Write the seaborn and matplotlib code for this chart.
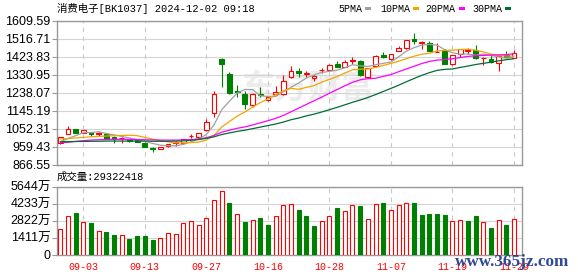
import matplotlib
matplotlib.use('Agg')
import matplotlib.pyplot as plt
import seaborn as sns
import numpy as np
import pandas as pd
from matplotlib.patches import Rectangle

# ---------------- data ----------------
dates = ['08-29', '08-30', '09-02', '09-03', '09-04', '09-05', '09-06', '09-09', '09-10', '09-11',
         '09-12', '09-13', '09-18', '09-19', '09-20', '09-23', '09-24', '09-25', '09-26', '09-27',
         '09-30', '10-08', '10-09', '10-10', '10-11', '10-14', '10-15', '10-16', '10-17', '10-18',
         '10-21', '10-22', '10-23', '10-24', '10-25', '10-28', '10-29', '10-30', '10-31', '11-01',
         '11-04', '11-05', '11-06', '11-07', '11-08', '11-11', '11-12', '11-13', '11-14', '11-15',
         '11-18', '11-19', '11-20', '11-21', '11-22', '11-25', '11-26', '11-27', '11-28', '11-29']

opens = [979, 1026, 1051, 1034, 1034, 1027, 1025, 1011, 1004, 994,
         995, 982, 955, 950, 963, 982, 980, 1014, 1011, 1047,
         1137, 1415, 1338, 1246, 1233, 1178, 1232, 1200, 1232, 1232,
         1319, 1352, 1338, 1317, 1357, 1357, 1390, 1374, 1404, 1403,
         1322, 1375, 1433, 1415, 1456, 1469, 1516, 1498, 1494, 1450,
         1456, 1386, 1440, 1457, 1460, 1418, 1413, 1391, 1432, 1421]
highs = [1012, 1068, 1053, 1048, 1037, 1035, 1030, 1016, 1013, 997,
         998, 983, 959, 962, 976, 990, 1003, 1028, 1034, 1102,
         1246, 1417, 1345, 1278, 1246, 1237, 1271, 1220, 1275, 1333,
         1377, 1365, 1353, 1330, 1366, 1388, 1404, 1408, 1425, 1410,
         1368, 1436, 1450, 1441, 1480, 1513, 1546, 1507, 1505, 1497,
         1466, 1436, 1464, 1469, 1484, 1424, 1434, 1430, 1456, 1460]
lows = [976, 1024, 1032, 1032, 1018, 1017, 1000, 981, 978, 987,
        983, 958, 932, 948, 961, 966, 975, 1004, 1008, 1044,
        1115, 1270, 1232, 1215, 1155, 1168, 1215, 1198, 1228, 1230,
        1316, 1322, 1322, 1302, 1340, 1355, 1371, 1372, 1387, 1327,
        1320, 1373, 1417, 1408, 1455, 1467, 1490, 1464, 1455, 1448,
        1386, 1385, 1425, 1439, 1416, 1384, 1395, 1353, 1424, 1419]
closes = [1009, 1051, 1034, 1046, 1029, 1031, 1002, 1000, 1006, 989,
          985, 961, 951, 960, 973, 984, 999, 1016, 1031, 1088,
          1234, 1389, 1236, 1242, 1180, 1235, 1226, 1216, 1243, 1298,
          1353, 1342, 1340, 1327, 1359, 1382, 1374, 1398, 1407, 1330,
          1365, 1428, 1426, 1439, 1468, 1511, 1508, 1500, 1456, 1452,
          1388, 1434, 1463, 1460, 1418, 1421, 1397, 1428, 1426, 1443]

ma5 = [987, 1003, 1018, 1033, 1034, 1038, 1029, 1022, 1014, 1006,
       997, 989, 978, 969, 966, 966, 973, 986, 1001, 1024,
       1074, 1152, 1196, 1238, 1256, 1256, 1224, 1220, 1220, 1244,
       1267, 1290, 1315, 1332, 1344, 1350, 1356, 1368, 1384, 1378,
       1375, 1384, 1391, 1398, 1425, 1454, 1472, 1485, 1489, 1485,
       1461, 1446, 1438, 1439, 1433, 1439, 1432, 1424, 1418, 1423]
ma10 = [1001, 1003, 1006, 1009, 1012, 1014, 1016, 1018, 1019, 1020,
        1018, 1009, 1000, 992, 986, 981, 981, 982, 985, 995,
        1020, 1063, 1091, 1119, 1140, 1165, 1188, 1208, 1229, 1250,
        1262, 1257, 1267, 1276, 1294, 1308, 1323, 1341, 1358, 1361,
        1362, 1370, 1380, 1391, 1402, 1415, 1428, 1438, 1443, 1455,
        1458, 1459, 1462, 1464, 1459, 1450, 1439, 1431, 1429, 1428]
ma20 = [982, 984, 988, 992, 995, 997, 998, 999, 999, 999,
        998, 997, 996, 995, 995, 995, 996, 998, 1001, 1007,
        1019, 1036, 1046, 1056, 1063, 1073, 1084, 1095, 1107, 1122,
        1141, 1160, 1179, 1198, 1217, 1237, 1256, 1275, 1293, 1306,
        1312, 1314, 1324, 1333, 1348, 1362, 1376, 1390, 1401, 1408,
        1410, 1415, 1421, 1427, 1430, 1432, 1434, 1435, 1436, 1441]
ma30 = [987, 987, 988, 988, 989, 989, 990, 990, 990, 990,
        990, 990, 989, 989, 989, 990, 991, 994, 998, 1004,
        1012, 1024, 1032, 1040, 1046, 1054, 1062, 1070, 1078, 1088,
        1100, 1109, 1120, 1129, 1140, 1152, 1164, 1177, 1190, 1202,
        1215, 1230, 1246, 1262, 1278, 1296, 1313, 1329, 1343, 1355,
        1360, 1362, 1370, 1377, 1385, 1391, 1397, 1404, 1410, 1415]

# volume in 万 (10k shares)
volume = [2103, 3209, 3486, 2711, 2656, 1964, 1881, 1660, 1632, 1300,
          1549, 1549, 1217, 1383, 1798, 1715, 2628, 2767, 2462, 3043,
          4537, 5284, 4288, 3375, 2711, 2877, 3043, 2490, 3209, 4122,
          4205, 3707, 3209, 2379, 2767, 3209, 3873, 3597, 4122, 4039,
          2932, 4205, 4288, 3707, 4122, 4288, 4288, 3320, 3375, 3375,
          3292, 2767, 2877, 2767, 3209, 2711, 2213, 2877, 2462, 2932]
vol_dir = ['u', 'u', 'd', 'u', 'd', 'u', 'd', 'd', 'u', 'd',
           'd', 'd', 'd', 'u', 'u', 'u', 'u', 'u', 'u', 'u',
           'u', 'u', 'd', 'u', 'd', 'u', 'd', 'd', 'u', 'u',
           'u', 'd', 'd', 'd', 'u', 'u', 'd', 'u', 'u', 'd',
           'u', 'u', 'd', 'u', 'u', 'u', 'd', 'd', 'd', 'd',
           'd', 'u', 'u', 'd', 'd', 'u', 'd', 'u', 'd', 'u']

price_ticks = [866.55, 959.43, 1052.31, 1145.19, 1238.07, 1330.95, 1423.83, 1516.71, 1609.59]
vol_ticks = [0, 1411, 2822, 4233, 5644]
label_dates = ['09-03', '09-13', '09-27', '10-16', '10-28', '11-07', '11-19', '11-29']
title_text = '消费电子[BK1037] 2024-12-02 09:18'
vol_text = '成交量:29322418'
ma_names = ['5PMA', '10PMA', '20PMA', '30PMA']

# ---------------- style ----------------
RED = '#ff0000'
GREEN = '#008000'
MA_COLORS = ['#a0a0a0', '#f5a300', '#ff00ff', '#006d36']
FRAME = '#999999'
GRID = '#d4d4d4'

sns.set_style('white')
plt.rcParams['font.family'] = ['Liberation Sans', 'Noto Sans CJK SC', 'DejaVu Sans']

W, H = 578, 276
fig = plt.figure(figsize=(W / 100, H / 100), dpi=100)


def fx(px):
    return px / W


def fy(py):
    return 1 - py / H


L, R = 56.5, 522.3
ax = fig.add_axes([fx(L), fy(165), (R - L) / W, 144 / H])
axv = fig.add_axes([fx(L), fy(254.7), (R - L) / W, 68 / H], sharex=ax)

df = pd.DataFrame({'date': dates, 'open': opens, 'high': highs, 'low': lows,
                   'close': closes, 'ma5': ma5, 'ma10': ma10, 'ma20': ma20,
                   'ma30': ma30, 'volume': volume, 'vdir': vol_dir})
df['x'] = np.arange(len(df))
o = df['open'].to_numpy(float)
c = df['close'].to_numpy(float)
h = df['high'].to_numpy(float)
lo = df['low'].to_numpy(float)
xs = df['x'].to_numpy()
up = c >= o
dn = ~up

# watermark
ax.text(0.54, 0.53, '东方财富', transform=ax.transAxes, fontsize=24, fontweight='bold',
        color='#ececec', ha='center', va='center', zorder=0.5,
        family=['Noto Sans CJK SC'])

# candles
bw = 0.62
ax.vlines(xs[up], c[up], h[up], color=RED, lw=0.8, zorder=3)
ax.vlines(xs[up], lo[up], o[up], color=RED, lw=0.8, zorder=3)
ax.vlines(xs[dn], lo[dn], h[dn], color=GREEN, lw=0.8, zorder=3)
ax.bar(xs[up], np.maximum(c[up] - o[up], 0.8), bottom=o[up], width=bw,
       facecolor='white', edgecolor=RED, linewidth=0.8, zorder=3.5)
ax.bar(xs[dn], np.maximum(o[dn] - c[dn], 0.8), bottom=c[dn], width=bw,
       facecolor=GREEN, edgecolor=GREEN, linewidth=0.8, zorder=3.5)

# moving averages
for col, color in zip(['ma5', 'ma10', 'ma20', 'ma30'], MA_COLORS):
    sns.lineplot(data=df, x='x', y=col, ax=ax, color=color, linewidth=0.9,
                 estimator=None, zorder=4)

# volume bars
vu = df['vdir'] == 'u'
vd = ~vu
vbw = 0.52
axv.bar(df.loc[vu, 'x'], df.loc[vu, 'volume'], width=vbw, facecolor='white',
        edgecolor=RED, linewidth=0.8, zorder=3)
axv.bar(df.loc[vd, 'x'], df.loc[vd, 'volume'], width=vbw, facecolor=GREEN,
        edgecolor=GREEN, linewidth=0.8, zorder=3)

# axes formatting
tick_idx = [dates.index(d) for d in label_dates]
for a in (ax, axv):
    a.set_xlim(-0.49, 60.08)
    a.set_xlabel('')
    a.set_ylabel('')
    for s in a.spines.values():
        s.set_color(FRAME)
        s.set_linewidth(1.0)
        s.set_visible(True)
    a.set_xticks(tick_idx)
    a.grid(axis='x', color='#c8c8c8', linewidth=0.8, linestyle=(0, (4, 4)), zorder=1)
    a.grid(axis='y', color=GRID, linewidth=0.8, linestyle='-', zorder=1)
    a.set_axisbelow(True)
    a.tick_params(axis='y', length=3.5, width=0.8, color=FRAME, pad=0.8,
                  labelsize=9, labelcolor='black', left=True)
    a.tick_params(axis='x', length=0)

ax.set_ylim(price_ticks[0], price_ticks[-1])
ax.set_yticks(price_ticks)
ax.set_yticklabels([f'{t:.2f}' for t in price_ticks])
ax.tick_params(axis='x', labelbottom=False)

axv.set_ylim(0, vol_ticks[-1])
axv.set_yticks(vol_ticks)
axv.set_yticklabels([f'{t}万' if t else '0' for t in vol_ticks])
axv.set_xticklabels(label_dates)
axv.tick_params(axis='x', labelbottom=True, pad=5.5, labelsize=7.2, labelcolor=RED)
for t in axv.get_xticklabels():
    t.set_family(['Liberation Mono', 'DejaVu Sans Mono'])

# header texts
mono_cjk = ['Liberation Mono', 'Noto Sans CJK SC']
fig.text(fx(57), fy(8.5), title_text, family=mono_cjk, fontsize=7.5,
         va='center', ha='left', color='black')
fig.text(fx(57), fy(177), vol_text, family=mono_cjk, fontsize=7.5,
         va='center', ha='left', color='black')

legend_x = [338, 380, 425, 472]
square_x = [365, 413, 459, 505]
for name, lx, sx, color in zip(ma_names, legend_x, square_x, MA_COLORS):
    fig.text(fx(lx), fy(8.8), name, family=['Liberation Mono'], fontsize=7.2,
             va='center', ha='left', color='black')
    fig.patches.append(Rectangle((fx(sx), fy(10.2)), 6 / W, 3.6 / H,
                                 transform=fig.transFigure, facecolor=color,
                                 edgecolor='none'))

# site watermark
fig.text(fx(455), fy(266), 'www.365jz.com', family=['Liberation Serif'],
         fontweight='bold', fontsize=12.3, color='#243f8f', va='baseline',
         ha='left', alpha=0.95)

fig.savefig('out.png', dpi=100)
